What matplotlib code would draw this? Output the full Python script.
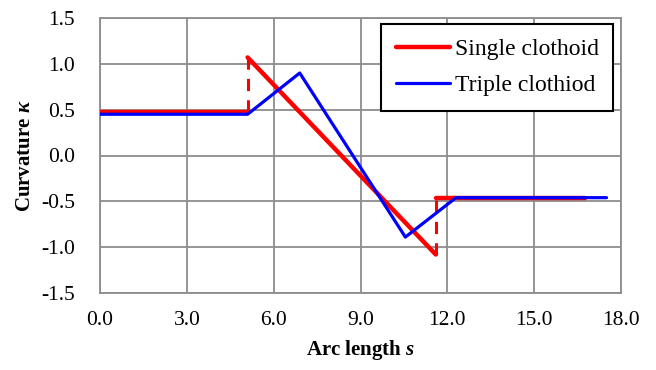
import numpy as np
import matplotlib.pyplot as plt

plt.rcParams['font.family'] = ['Liberation Serif', 'DejaVu Serif']
plt.rcParams['mathtext.fontset'] = 'custom'
plt.rcParams['mathtext.it'] = 'Liberation Serif:italic:bold'
plt.rcParams['mathtext.rm'] = 'Liberation Serif:bold'
plt.rcParams['mathtext.bf'] = 'Liberation Serif:italic:bold'

# single clothoid (solid pieces + dashed jumps)
s_single = [0.0, 5.1, 5.1, 11.6, 11.6, 16.75]
k_single = [0.47, 0.47, 1.07, -1.08, -0.46, -0.46]
jump1_s = [5.1, 5.1]
jump1_k = [0.47, 1.07]
jump2_s = [11.6, 11.6]
jump2_k = [-1.08, -0.46]

# triple clothoid
s_triple = [0.0, 5.1, 6.9, 10.55, 12.3, 17.5]
k_triple = [0.45, 0.45, 0.9, -0.89, -0.46, -0.46]

xticks = [0, 3, 6, 9, 12, 15, 18]
yticks = [-1.5, -1.0, -0.5, 0.0, 0.5, 1.0, 1.5]

fig = plt.figure(figsize=(6.56, 3.70), dpi=100)
ax = fig.add_axes([100/656, 1 - 293/370, 521/656, 275/370])

red = '#ff0000'
blue = '#0000ff'

ax.plot(s_single[:2], k_single[:2], color=red, lw=3.2, solid_capstyle='round', zorder=3)
ax.plot(s_single[2:4], k_single[2:4], color=red, lw=3.2, solid_capstyle='round', zorder=3,
        label='Single clothoid')
ax.plot(s_single[4:], k_single[4:], color=red, lw=3.2, solid_capstyle='round', zorder=3)
ax.plot(jump1_s, jump1_k, color=red, lw=2.2, ls=(0, (4, 3)), zorder=3)
ax.plot(jump2_s, jump2_k, color=red, lw=2.2, ls=(0, (4, 3)), zorder=3)
ax.plot(s_triple, k_triple, color=blue, lw=2.3, solid_capstyle='round', zorder=4,
        label='Triple clothiod')

ax.set_xlim(0, 18)
ax.set_ylim(-1.5, 1.5)
ax.set_xticks(xticks)
ax.set_yticks(yticks)
ax.set_xticklabels(['%.1f' % v for v in xticks], fontsize=15.5)
ax.set_yticklabels(['%.1f' % v for v in yticks], fontsize=15.5)
ax.tick_params(axis='x', length=0, pad=13)
ax.tick_params(axis='y', length=0, pad=18)
ax.grid(True, color='#8c8c8c', lw=1.3)
for sp in ax.spines.values():
    sp.set_color('#8c8c8c')
    sp.set_linewidth(1.3)

ax.set_xlabel('Arc length $s$', fontsize=15, fontweight='bold', labelpad=6)
ax.set_ylabel('Curvature $\\kappa$', fontsize=15, fontweight='bold', labelpad=4)

leg = ax.legend(loc='upper right', bbox_to_anchor=(0.985, 0.978), fontsize=17,
                frameon=True, fancybox=False, edgecolor='black', framealpha=1,
                handlelength=2.3, borderpad=0.62, labelspacing=0.62, handletextpad=0.2,
                borderaxespad=0)
leg.get_frame().set_linewidth(1.5)
leg.set_zorder(10)

fig.savefig('out.png', dpi=100)
